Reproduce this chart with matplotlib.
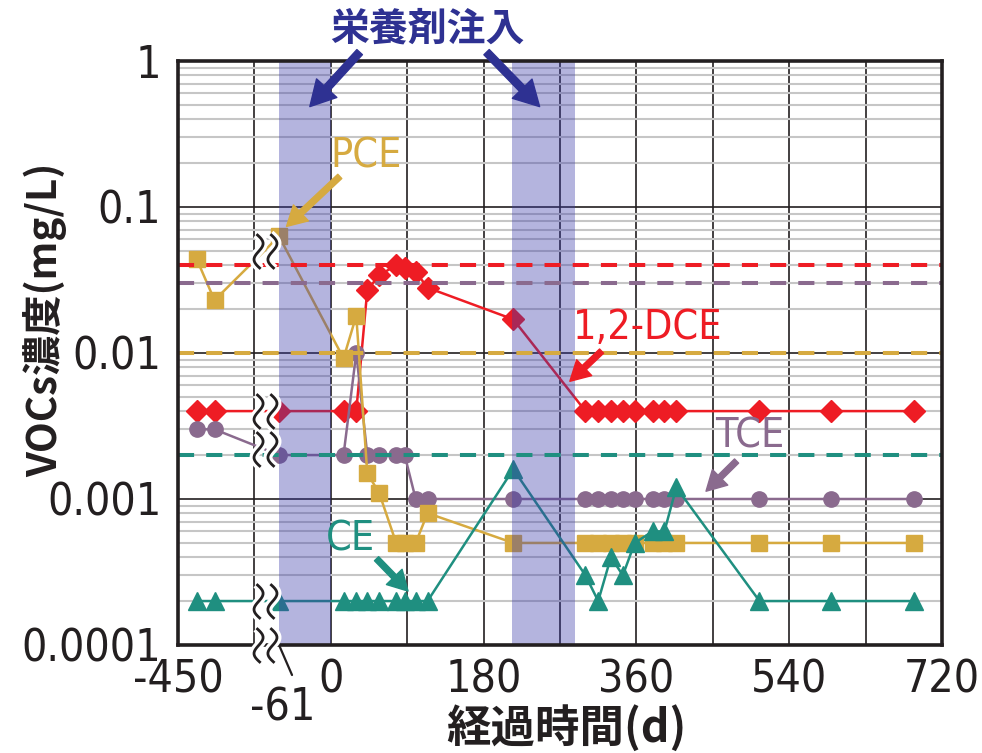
import numpy as np
import matplotlib
matplotlib.use('Agg')
import matplotlib.pyplot as plt
from matplotlib import font_manager
from matplotlib.font_manager import FontProperties
from matplotlib.path import Path
from matplotlib.ticker import FixedLocator, FixedFormatter, NullFormatter, LogLocator

# sampling days (d); the first two sit on the compressed part of the axis
days = [-362, -278, -61, 15, 30, 43, 57, 77, 87, 100, 114, 215,
        300, 315, 330, 344, 358, 379, 393, 407, 505, 589, 687]

# concentrations (mg/L)
dce = [0.004, 0.004, 0.004, 0.004, 0.004, 0.027, 0.034, 0.040, 0.038, 0.036, 0.028, 0.017,
       0.004, 0.004, 0.004, 0.004, 0.004, 0.004, 0.004, 0.004, 0.004, 0.004, 0.004]
tce = [0.003, 0.003, 0.002, 0.002, 0.01, 0.002, 0.002, 0.002, 0.002, 0.001, 0.001, 0.001,
       0.001, 0.001, 0.001, 0.001, 0.001, 0.001, 0.001, 0.001, 0.001, 0.001, 0.001]
pce = [0.044, 0.023, 0.063, 0.0092, 0.018, 0.0015, 0.0011, 0.0005, 0.0005, 0.0005, 0.0008, 0.0005,
       0.0005, 0.0005, 0.0005, 0.0005, 0.0005, 0.0005, 0.0005, 0.0005, 0.0005, 0.0005, 0.0005]
ce = [0.0002, 0.0002, 0.0002, 0.0002, 0.0002, 0.0002, 0.0002, 0.0002, 0.0002, 0.0002, 0.0002, 0.0016,
      0.0003, 0.0002, 0.0004, 0.0003, 0.0005, 0.0006, 0.0006, 0.0012, 0.0002, 0.0002, 0.0002]

# environmental standards (dashed lines)
std_dce, std_tce, std_pce, std_ce = 0.04, 0.03, 0.01, 0.002

# nutrient injection periods (d)
injections = [(-61, 0), (213, 288)]

x_ticks = [-450, -90, 0, 90, 180, 270, 360, 450, 540, 630, 720]
x_labels = ['-450', '', '0', '', '180', '', '360', '', '540', '', '720']
y_ticks = [1e-4, 1e-3, 1e-2, 1e-1, 1]
y_labels = ['0.0001', '0.001', '0.01', '0.1', '1']

RED = '#ee1c24'
PURPLE = '#8a6a8e'
GOLD = '#d6aa40'
TEAL = '#1f8f80'
NAVY = '#2e3192'
INK = '#231f20'
CJK = ['Noto Sans CJK JP', 'DejaVu Sans']

# look for a condensed latin face, the original uses a narrow font
narrow_path = None
for key in ('LiberationSansNarrow-Regular', 'DejaVuSansCondensed.', 'RobotoCondensed-Regular',
            'Narrow', 'Condensed'):
    hits = sorted(f.fname for f in font_manager.fontManager.ttflist
                  if key in f.fname and 'Bold' not in f.fname and 'Italic' not in f.fname
                  and 'Oblique' not in f.fname)
    if hits:
        narrow_path = hits[0]
        break


def narrow(size):
    if narrow_path:
        return FontProperties(fname=narrow_path, size=size)
    return FontProperties(family='Liberation Sans', size=size * 0.8)


# broken axis: everything before -90 d is squeezed
BREAK = -90
SQUEEZE = 0.25


def fwd(d):
    d = np.asarray(d, dtype=float)
    return np.where(d < BREAK, BREAK + (d - BREAK) * SQUEEZE, d)


def inv(x):
    x = np.asarray(x, dtype=float)
    return np.where(x < BREAK, BREAK + (x - BREAK) / SQUEEZE, x)


def squiggle_marker():
    # two parallel wavy strokes, the usual axis-break sign
    t = np.linspace(-0.5, 0.5, 25)
    verts, codes = [], []
    for off in (-0.2, 0.2):
        xs = off + 0.16 * np.sin(2 * np.pi * t) - 0.12 * t
        pts = list(zip(xs, t))
        verts += pts
        codes += [Path.MOVETO] + [Path.LINETO] * (len(pts) - 1)
    return Path(verts, codes)


fig = plt.figure(figsize=(9.82, 7.53), dpi=100)
ax = fig.add_axes([178 / 982, 1 - 645 / 753, (942 - 178) / 982, (645 - 61) / 753])
ax.set_xscale('function', functions=(fwd, inv))
ax.set_yscale('log')
ax.set_xlim(-450, 720)
ax.set_ylim(1e-4, 1)

ax.xaxis.set_major_locator(FixedLocator(x_ticks))
ax.xaxis.set_major_formatter(FixedFormatter(x_labels))
ax.xaxis.set_minor_locator(FixedLocator([]))
ax.yaxis.set_major_locator(FixedLocator(y_ticks))
ax.yaxis.set_major_formatter(FixedFormatter(y_labels))
ax.yaxis.set_minor_locator(LogLocator(base=10, subs=np.arange(2, 10)))
ax.yaxis.set_minor_formatter(NullFormatter())
ax.tick_params(which='both', length=0)
ax.tick_params(axis='x', pad=10)
ax.tick_params(axis='y', pad=12)
for lab in ax.get_xticklabels() + ax.get_yticklabels():
    lab.set_fontproperties(narrow(32))
    lab.set_color(INK)

ax.grid(which='minor', axis='y', color='#c6c6c6', lw=1.5, zorder=0)
ax.grid(which='major', axis='both', color=INK, lw=1.2, zorder=0)
ax.set_axisbelow(True)
for sp in ax.spines.values():
    sp.set_linewidth(2.6)
    sp.set_color(INK)
    sp.set_zorder(7)

# standards
for val, col in [(std_dce, RED), (std_tce, PURPLE), (std_pce, GOLD), (std_ce, TEAL)]:
    ax.axhline(val, color=col, lw=2.9, ls=(0, (4, 3)), zorder=5)

# series
ax.plot(days, dce, color=RED, lw=1.8, marker='D', ms=11, zorder=3)
ax.plot(days, tce, color=PURPLE, lw=1.8, marker='o', ms=11, zorder=3)
ax.plot(days, pce, color=GOLD, lw=1.8, marker='s', ms=12, zorder=3)
ax.plot(days, ce, color=TEAL, lw=1.8, marker='^', ms=12.5, zorder=3)

# injection bands, drawn over the data like the original
for a, b in injections:
    ax.axvspan(a, b, color='#3c3caa', alpha=0.38, lw=0, zorder=4)

# break marks between the squeezed and linear parts
x_sq = -78
pos = fwd([days[1], days[2], x_sq])
t = (pos[2] - pos[0]) / (pos[1] - pos[0])
sq_y = [10 ** (np.log10(s[1]) + t * (np.log10(s[2]) - np.log10(s[1]))) for s in (dce, tce, pce, ce)]
sq_y.append(1e-4)
sq = squiggle_marker()
ax.plot([x_sq] * len(sq_y), sq_y, ls='none', marker=sq, ms=25, mew=6.5, mec='white',
        mfc='none', zorder=8, clip_on=False)
ax.plot([x_sq] * len(sq_y), sq_y, ls='none', marker=sq, ms=25, mew=2.0, mec=INK,
        mfc='none', zorder=8, clip_on=False)

# -61 label
ax.annotate('', xy=(-61, 1e-4), xytext=(13, -30), textcoords='offset pixels',
            arrowprops=dict(arrowstyle='-', color=INK, lw=1.6, shrinkA=0, shrinkB=0),
            annotation_clip=False)
ax.annotate('-61', xy=(-61, 1e-4), xytext=(4, -63), textcoords='offset pixels',
            ha='center', va='center', fontproperties=narrow(32), color=INK,
            annotation_clip=False)

# series labels with arrows
arrow_kw = dict(arrowstyle='simple,head_length=0.95,head_width=1.05,tail_width=0.28',
                mutation_scale=15, shrinkA=0, shrinkB=0)
labels = [('PCE', GOLD, (41.8, 0.222), (10.6, 0.162), (-52.2, 0.0736)),
          ('1,2-DCE', RED, (373.5, 0.0149), (319, 0.0103), (281.6, 0.0064)),
          ('TCE', PURPLE, (494, 0.00266), (478, 0.00182), (442, 0.00113)),
          ('CE', TEAL, (23.6, 0.00053), (53.9, 0.00039), (91, 0.000234))]
for txt, col, tpos, tail, tip in labels:
    ax.text(*tpos, txt, color=col, fontproperties=narrow(29.5), ha='center', va='center', zorder=9)
    ax.annotate('', xy=tip, xytext=tail, arrowprops=dict(color=col, **arrow_kw), zorder=9)

# injection label
fig.text(427 / 982, 1 - 29 / 753, '栄養剤注入', color=NAVY, fontsize=28, fontweight='bold',
         family=CJK, ha='center', va='center')
nav_kw = dict(arrowstyle='simple,head_length=1.0,head_width=1.1,tail_width=0.3',
              mutation_scale=18, shrinkA=0, shrinkB=0, color=NAVY)
ax.annotate('', xy=(-24.7, 0.487), xytext=(34, 1.15), arrowprops=nav_kw,
            annotation_clip=False, zorder=9)
ax.annotate('', xy=(246, 0.487), xytext=(183.5, 1.15), arrowprops=nav_kw,
            annotation_clip=False, zorder=9)

# axis titles
fig.text(45 / 982, 1 - 320 / 753, 'VOCs濃度(mg/L)', rotation=90, fontsize=29, fontweight='bold',
         family=CJK, ha='center', va='center', color=INK)
fig.text(566 / 982, 1 - 728 / 753, '経過時間(d)', fontsize=32, fontweight='bold',
         family=CJK, ha='center', va='center', color=INK)

fig.savefig('out.png', dpi=100)
